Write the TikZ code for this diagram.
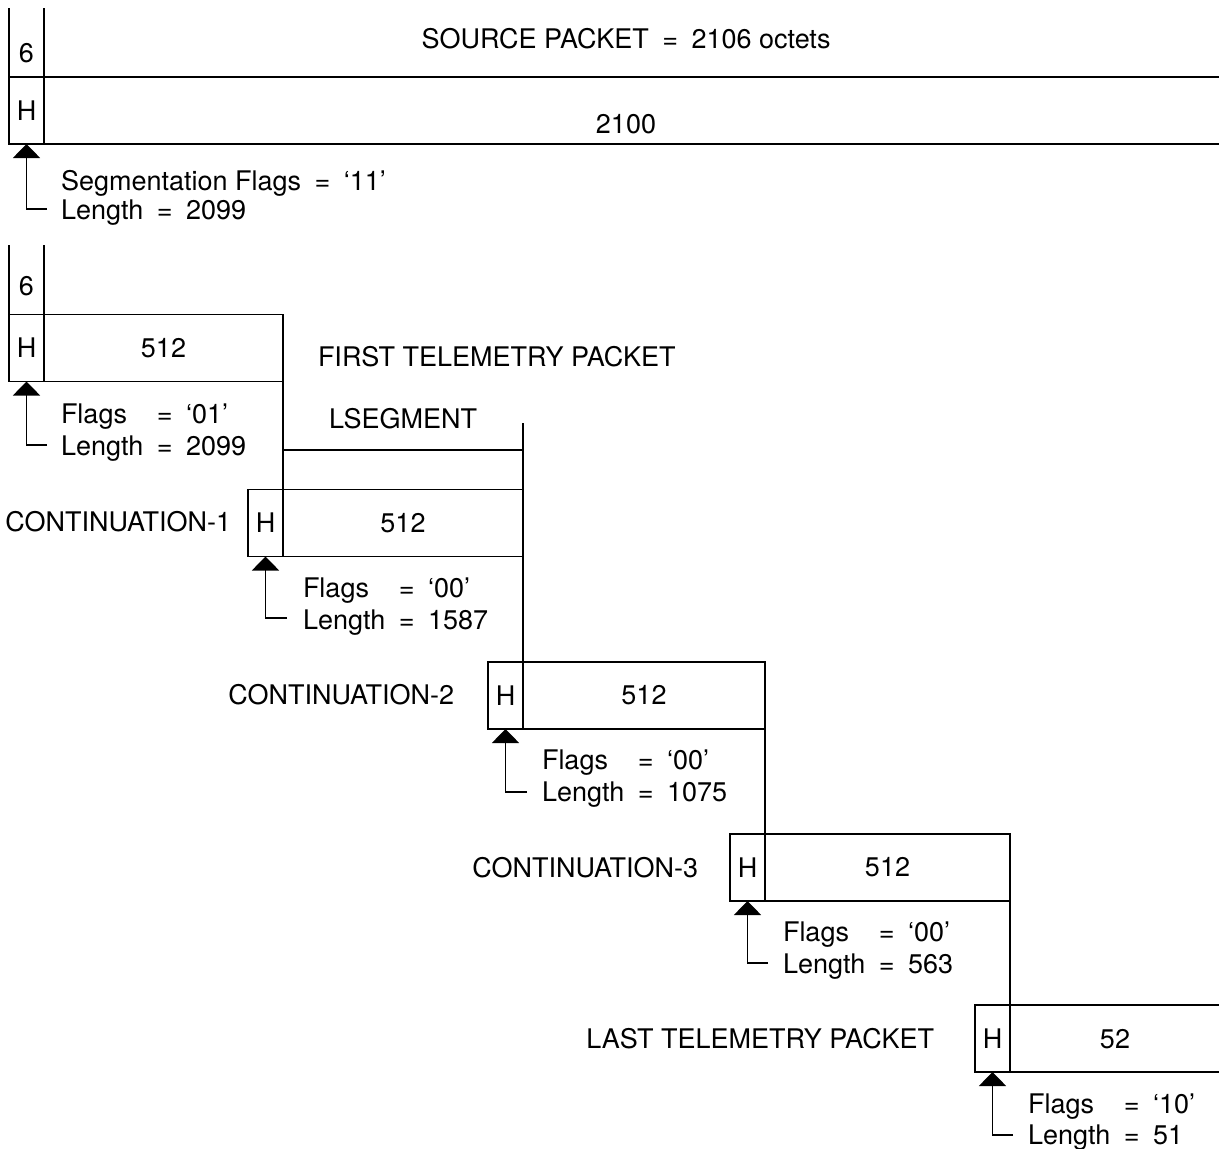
\documentclass[tikz,border=0pt]{standalone}
\usepackage{fontspec}
\setmainfont{TeX Gyre Heros}
\usepackage{calc}
\usetikzlibrary{arrows.meta}
\newcommand\myeq{\hspace{0.5em}=\hspace{0.5em}}
\newcommand\flagtxt{\makebox[\widthof{Length}][l]{Flags}}
\begin{document}
\begin{tikzpicture}[x=1pt,y=1pt,
  every node/.style={font=\fontsize{27}{32}\selectfont, inner sep=0pt, outer sep=0pt},
  line/.style={line width=1.7pt},
  hcell/.style={draw, line width=1.7pt, minimum width=35pt, minimum height=67pt},
  datacell/.style={draw, line width=1.7pt, minimum height=67pt},
  lbl/.style={anchor=base west},
  ttl/.style={anchor=base east},
  ptr/.style={line width=1.7pt, -{Triangle[width=27pt,length=14pt]}},
]
\useasboundingbox (0,0) rectangle (1219,-1149);

% ---------- source packet ----------
\node[hcell] (h0) at (26.5,-110.5) {H};
\draw[line] (9,-8) -- (h0.north west);
\draw[line] (44,-8) -- (h0.north east);
\draw[line] (h0.north east) -- (1219,-77);
\draw[line] (h0.south east) -- (1219,-144);
\node[anchor=base] (six0) at (26.5,-62) {6};
\node[anchor=base] (src) at (626,-48) {SOURCE PACKET\myeq 2106 octets};
\node[anchor=base] (n2100) at (626,-133) {2100};
\coordinate (c0) at (47,-209);
\draw[ptr] (c0) -| (h0.south);
\node[lbl] (f0) at (61,-190) {Segmentation Flags\myeq‘11’};
\node[lbl] (l0) at (61,-219) {Length\myeq 2099};

% ---------- first telemetry packet ----------
\node[hcell] (h1) at (26.5,-348) {H};
\node[datacell, minimum width=239pt] (d1) at (163.5,-348) {512};
\draw[line] (9,-245) -- (h1.north west);
\draw[line] (44,-245) -- (h1.north east);
\node[anchor=base] (six1) at (26.5,-295) {6};
\coordinate (c1) at (47,-445);
\draw[ptr] (c1) -| (h1.south);
\node[lbl] (f1) at (61,-423) {\flagtxt\myeq‘01’};
\node[lbl] (l1) at (61,-455) {Length\myeq 2099};
\node[lbl] (first) at (318,-366) {FIRST TELEMETRY PACKET};

% ---------- continuation 1 ----------
\node[hcell] (h2) at (265.5,-523) {H};
\node[datacell, minimum width=240pt] (d2) at (403,-523) {512};
\draw[line] (d1.south east) -- (h2.north east);
\coordinate (ls) at (523,-423);
\draw[line] (ls) -- (d2.north east);
\draw[line] (283,-450) -- (523,-450);
\node[anchor=base] (lseg) at (403,-428) {LSEGMENT};
\node[ttl] (cont1) at (231,-531) {CONTINUATION-1};
\coordinate (c2) at (287,-618);
\draw[ptr] (c2) -| (h2.south);
\node[lbl] (f2) at (303,-597) {\flagtxt\myeq‘00’};
\node[lbl] (l2) at (303,-629) {Length\myeq 1587};

% ---------- continuation 2 ----------
\node[hcell] (h3) at (505.5,-695.5) {H};
\node[datacell, minimum width=242pt] (d3) at (644,-695.5) {512};
\draw[line] (d2.south east) -- (h3.north east);
\node[ttl] (cont2) at (454,-704) {CONTINUATION-2};
\coordinate (c3) at (527,-792);
\draw[ptr] (c3) -| (h3.south);
\node[lbl] (f3) at (542,-769) {\flagtxt\myeq‘00’};
\node[lbl] (l3) at (542,-801) {Length\myeq 1075};

% ---------- continuation 3 ----------
\node[hcell] (h4) at (747.5,-867.5) {H};
\node[datacell, minimum width=245pt] (d4) at (887.5,-867.5) {512};
\draw[line] (d3.south east) -- (h4.north east);
\node[ttl] (cont3) at (698,-877) {CONTINUATION-3};
\coordinate (c4) at (768,-963);
\draw[ptr] (c4) -| (h4.south);
\node[lbl] (f4) at (783,-941) {\flagtxt\myeq‘00’};
\node[lbl] (l4) at (783,-973) {Length\myeq 563};

% ---------- last telemetry packet ----------
\node[hcell] (h5) at (992.5,-1038.5) {H};
\draw[line] (d4.south east) -- (h5.north east);
\draw[line] (h5.north east) -- (1219,-1005);
\draw[line] (h5.south east) -- (1219,-1072);
\node[anchor=base] (n52) at (1115,-1048) {52};
\node[ttl] (last) at (934,-1048) {LAST TELEMETRY PACKET};
\coordinate (c5) at (1013,-1135);
\draw[ptr] (c5) -| (h5.south);
\node[lbl] (f5) at (1028,-1113) {\flagtxt\myeq‘10’};
\node[lbl] (l5) at (1028,-1144) {Length\myeq 51};
\end{tikzpicture}
\end{document}
